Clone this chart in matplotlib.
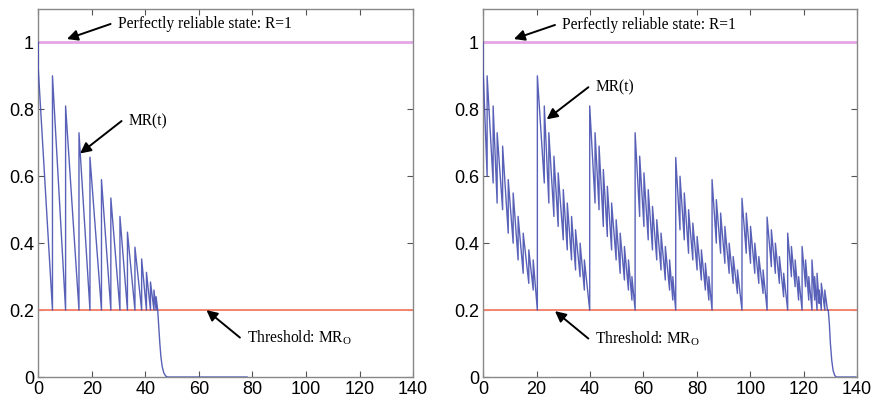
"""Mission reliability MR(t) under two maintenance policies"""
import numpy as np
import matplotlib
matplotlib.use("Agg")
import matplotlib.pyplot as plt

# ---- left panel: one tooth per maintenance action, each decays to the threshold
left_start = 1.0
left_t = [0.0, 5.3, 10.2, 15.2, 19.3, 23.6, 27.1, 30.5, 33.3, 36.1, 38.6, 40.4, 41.9, 43.2, 44.0]
left_peak = [0.92, 0.90, 0.81, 0.73, 0.657, 0.59, 0.535, 0.48, 0.433, 0.388, 0.353,
             0.313, 0.284, 0.26, 0.24]
left_low = [0.2] * len(left_t)
left_end_t = 44.6
left_tail_t = [45.0, 45.4, 45.8, 46.3, 46.9, 47.6, 48.3, 78.0]
left_tail_v = [0.15, 0.10, 0.06, 0.03, 0.012, 0.003, 0.0, 0.0]

# ---- right panel: small repairs inside each major cycle
right_start = 1.0
right_t = [
    0.0, 1.5, 3.75, 5.25, 7.3, 9.4, 11.25, 13.1, 15.0, 17.1, 18.75,
    20.3, 22.9, 24.6, 26.5, 28.1, 30.0, 31.5, 33.1, 34.6, 36.3, 37.9,
    39.9, 41.9, 43.4, 45.0, 46.5, 48.1, 49.8, 51.3, 52.9, 54.4, 55.7,
    56.9, 58.6, 60.2, 61.8, 63.4, 65.0, 66.6, 68.2, 69.8, 71.0,
    72.1, 73.7, 75.3, 76.9, 78.5, 80.1, 81.7, 83.2, 84.5,
    85.7, 87.3, 88.9, 90.5, 92.1, 93.6, 95.2,
    96.9, 98.5, 100.1, 101.7, 103.2, 104.8,
    106.3, 107.9, 109.4, 110.9, 112.5,
    114.0, 115.4, 116.8, 118.1,
    119.4, 120.7, 121.9,
    123.1, 124.1,
    125.0, 125.8,
    126.6,
    127.9,
]
right_peak = [
    0.92, 0.90, 0.81, 0.73, 0.69, 0.59, 0.55, 0.48, 0.43, 0.38, 0.35,
    0.90, 0.81, 0.73, 0.66, 0.61, 0.56, 0.52, 0.48, 0.44, 0.40, 0.35,
    0.81, 0.73, 0.69, 0.62, 0.57, 0.52, 0.47, 0.43, 0.39, 0.35, 0.30,
    0.73, 0.66, 0.61, 0.56, 0.51, 0.47, 0.43, 0.39, 0.35, 0.30,
    0.656, 0.60, 0.55, 0.50, 0.46, 0.42, 0.38, 0.34, 0.30,
    0.59, 0.53, 0.49, 0.45, 0.40, 0.36, 0.32,
    0.534, 0.49, 0.45, 0.40, 0.36, 0.32,
    0.478, 0.44, 0.40, 0.36, 0.31,
    0.43, 0.39, 0.35, 0.30,
    0.39, 0.35, 0.30,
    0.35, 0.30,
    0.31, 0.26,
    0.28,
    0.26,
]
right_low = [
    0.60, 0.58, 0.52, 0.50, 0.43, 0.40, 0.35, 0.31, 0.28, 0.26, 0.20,
    0.58, 0.52, 0.48, 0.45, 0.41, 0.38, 0.35, 0.32, 0.30, 0.26, 0.20,
    0.52, 0.50, 0.45, 0.42, 0.38, 0.35, 0.31, 0.29, 0.26, 0.23, 0.20,
    0.48, 0.45, 0.41, 0.38, 0.35, 0.32, 0.29, 0.26, 0.23, 0.20,
    0.44, 0.41, 0.37, 0.35, 0.32, 0.29, 0.26, 0.23, 0.20,
    0.40, 0.37, 0.34, 0.31, 0.28, 0.25, 0.20,
    0.37, 0.34, 0.31, 0.28, 0.25, 0.20,
    0.33, 0.31, 0.28, 0.24, 0.20,
    0.30, 0.27, 0.23, 0.20,
    0.27, 0.23, 0.20,
    0.23, 0.20,
    0.22, 0.20,
    0.20,
    0.20,
]
right_end_t = 128.9
right_tail_t = [129.2, 129.6, 130.0, 130.5, 131.0, 131.6, 132.2, 139.5]
right_tail_v = [0.2, 0.16, 0.10, 0.05, 0.02, 0.005, 0.0, 0.0]

perfect_level = 1.0
threshold = 0.2


def sawtooth_path(start, t, peak, low, end_t, tail_t, tail_v):
    """Vertices of the reliability curve: jump up at each t, decay to low."""
    xs, ys = [t[0]], [start]
    bounds = list(t[1:]) + [end_t]
    for i in range(len(t)):
        xs += [t[i], bounds[i]]
        ys += [peak[i], low[i]]
    xs += list(tail_t)
    ys += list(tail_v)
    return np.array(xs), np.array(ys)


def draw_panel(ax, path, notes):
    x, y = path
    ax.axhline(perfect_level, color='#e4a6e4', lw=2.0, zorder=2)
    ax.axhline(threshold, color='#f4846e', lw=1.4, zorder=2)
    ax.plot(x, y, color='#4650b0', lw=1.0, alpha=0.9, zorder=3)

    ax.set_xlim(0, 140)
    ax.set_ylim(0, 1.1)
    ax.set_xticks(np.arange(0, 141, 20))
    ax.set_yticks([0, 0.2, 0.4, 0.6, 0.8, 1.0])
    ax.set_yticklabels(['0', '0.2', '0.4', '0.6', '0.8', '1'])
    ax.tick_params(direction='in', length=4, top=True, right=True,
                   labelsize=13, color='#555555', pad=3)
    for lab in ax.get_xticklabels() + ax.get_yticklabels():
        lab.set_family('Liberation Sans')
    for s in ax.spines.values():
        s.set_color('#888888')
        s.set_linewidth(1.0)

    for text, xy, xytext in notes:
        ax.annotate('', xy=xy, xytext=xytext,
                    arrowprops=dict(arrowstyle='-|>', color='black', lw=1.4,
                                    mutation_scale=16, shrinkA=0, shrinkB=0))
        ax.text(xytext[0] + 2.6, xytext[1], text, ha='left', va='center',
                fontsize=11.2, family='Liberation Serif')


fig = plt.figure(figsize=(8.8, 4.05), dpi=100)
ax_l = fig.add_axes([0.0435, 0.069, 0.426, 0.909])
ax_r = fig.add_axes([0.549, 0.069, 0.425, 0.909])

draw_panel(ax_l,
           sawtooth_path(left_start, left_t, left_peak, left_low,
                         left_end_t, left_tail_t, left_tail_v),
           [("Perfectly reliable state: R=1", (10.7, 1.01), (27.0, 1.055)),
            ("MR(t)", (15.6, 0.668), (31.1, 0.765)),
            ("Threshold: MR$_\\mathregular{O}$", (62.8, 0.2), (75.3, 0.118))])

draw_panel(ax_r,
           sawtooth_path(right_start, right_t, right_peak, right_low,
                         right_end_t, right_tail_t, right_tail_v),
           [("Perfectly reliable state: R=1", (11.5, 1.01), (26.9, 1.052)),
            ("MR(t)", (23.8, 0.77), (39.4, 0.866)),
            ("Threshold: MR$_\\mathregular{O}$", (26.9, 0.197), (39.4, 0.115))])

fig.savefig('out.png', dpi=100)
